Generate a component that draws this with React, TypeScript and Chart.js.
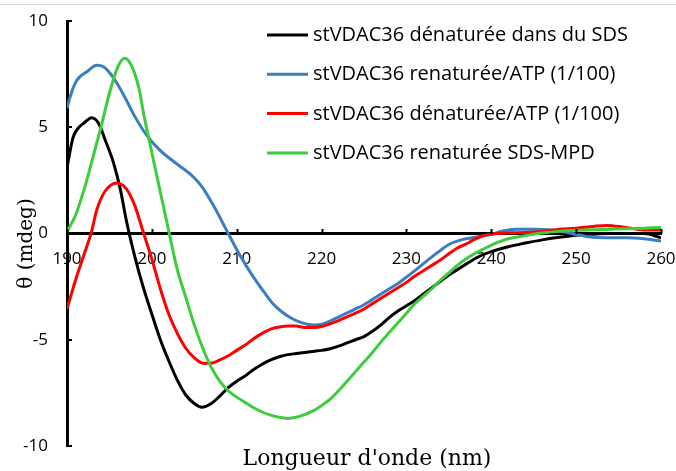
import { useEffect, useRef } from 'react';
import { Chart, registerables } from 'chart.js';

Chart.register(...registerables);

// Circular dichroism spectra, wavelength (nm) vs ellipticity θ (mdeg)
const sdsNm = [190, 190.7, 191.3, 192, 192.9, 193.7, 194.5, 195.5, 196.3, 197, 198, 199, 200, 201, 202, 203, 204, 205, 205.9, 207, 208, 209, 210, 211, 212, 213, 214, 215, 216, 217, 218, 219, 220, 221, 222, 223, 224, 225, 226, 227, 228, 229, 230, 231, 232, 233, 234, 235, 236, 237, 238, 239, 240, 242, 244, 246, 248, 250, 252, 254, 256, 258, 260];
const sdsTheta = [3.1, 4.5, 4.95, 5.2, 5.45, 5.2, 4.4, 3.3, 2.05, 0.6, -1.1, -2.55, -3.8, -5.0, -6.0, -6.9, -7.6, -8.0, -8.18, -8.0, -7.65, -7.25, -6.95, -6.7, -6.4, -6.15, -5.95, -5.8, -5.7, -5.65, -5.6, -5.55, -5.5, -5.42, -5.3, -5.15, -5.0, -4.85, -4.6, -4.3, -3.95, -3.65, -3.4, -3.15, -2.85, -2.55, -2.25, -1.95, -1.7, -1.45, -1.2, -1.0, -0.85, -0.62, -0.45, -0.3, -0.18, -0.08, -0.03, 0.0, 0.0, 0.0, -0.2];

const renatAtpNm = [190, 190.5, 191, 191.5, 192.3, 193.5, 194.3, 195.1, 196, 197, 198, 199.4, 201, 202.9, 204.9, 206, 206.9, 207.7, 208.4, 209, 210.4, 211.4, 212.4, 213.4, 214.3, 215.3, 216.3, 217.3, 218.3, 219.2, 220, 221, 222, 223, 224, 225, 226, 227, 228, 229, 230, 231, 232, 233, 234, 235, 236, 237, 238, 239, 240, 241, 242, 243, 245, 247, 249, 250, 251, 252, 254, 256, 258, 260];
const renatAtpTheta = [5.9, 6.6, 7.1, 7.37, 7.6, 7.92, 7.85, 7.53, 7.0, 6.27, 5.5, 4.62, 3.9, 3.29, 2.66, 2.15, 1.56, 1.0, 0.46, 0.0, -1.04, -1.7, -2.3, -2.85, -3.32, -3.68, -3.95, -4.15, -4.27, -4.3, -4.27, -4.12, -3.93, -3.74, -3.55, -3.35, -3.1, -2.85, -2.6, -2.35, -2.05, -1.75, -1.42, -1.1, -0.8, -0.52, -0.36, -0.25, -0.18, -0.1, -0.05, 0.08, 0.17, 0.2, 0.2, 0.17, 0.05, -0.05, -0.12, -0.18, -0.2, -0.2, -0.25, -0.35];

const denatAtpNm = [190, 191, 192, 192.9, 193.5, 194.5, 195.9, 197, 198, 199, 200, 201, 202, 203, 204, 205, 206, 207, 208, 209, 210, 211, 212, 213, 214, 215, 216, 217, 218, 219, 220, 221, 222, 223, 224, 225, 226, 227, 228, 229, 230, 231, 232, 233, 234, 235, 236, 237, 238, 239, 240, 242, 244, 246, 248, 250, 252, 253.6, 255.6, 258, 260];
const denatAtpTheta = [-3.55, -2.2, -1.0, 0.1, 1.1, 2.0, 2.38, 2.1, 1.3, 0.05, -1.2, -2.6, -3.8, -4.7, -5.4, -5.85, -6.1, -6.1, -5.95, -5.75, -5.5, -5.25, -4.95, -4.7, -4.5, -4.4, -4.35, -4.35, -4.42, -4.42, -4.38, -4.25, -4.1, -3.92, -3.75, -3.55, -3.3, -3.05, -2.8, -2.55, -2.3, -2.0, -1.75, -1.5, -1.25, -0.95, -0.68, -0.5, -0.28, -0.12, -0.03, 0.03, 0.05, 0.1, 0.2, 0.25, 0.33, 0.38, 0.3, 0.17, 0.17];

const sdsMpdNm = [190, 191, 192, 193, 194, 195, 196, 196.8, 197.6, 198.5, 199, 200, 201, 202, 203, 204, 205, 206, 207, 208, 209, 210, 211, 212, 213, 214, 215, 216, 217, 218, 219, 220, 221, 222, 223, 224, 225, 226, 227, 228, 229, 230, 231, 232, 233, 234, 235, 236, 237, 238, 239, 240, 241, 242, 244, 246, 248, 250, 252, 254, 256, 258, 260];
const sdsMpdTheta = [0.1, 0.85, 2.05, 3.5, 5.0, 6.6, 7.85, 8.25, 7.9, 6.8, 5.7, 3.8, 1.95, 0.1, -1.7, -3.0, -4.3, -5.4, -6.3, -6.95, -7.4, -7.7, -7.95, -8.2, -8.4, -8.55, -8.65, -8.7, -8.65, -8.52, -8.35, -8.1, -7.8, -7.4, -6.95, -6.5, -6.05, -5.6, -5.1, -4.65, -4.2, -3.75, -3.3, -2.95, -2.6, -2.2, -1.85, -1.5, -1.2, -0.95, -0.75, -0.55, -0.38, -0.25, -0.1, 0.02, 0.1, 0.15, 0.18, 0.2, 0.22, 0.25, 0.28];

const seriesLabels = [
  'stVDAC36 dénaturée dans du SDS',
  'stVDAC36 renaturée/ATP (1/100)',
  'stVDAC36 dénaturée/ATP (1/100)',
  'stVDAC36 renaturée SDS-MPD',
];
const seriesColors = ['#000000', '#3b7dc1', '#ff0000', '#3ccc3c'];

const xAxisTitle = "Longueur d'onde (nm)";
const yAxisTitle = 'θ (mdeg)';

const toPoints = (nm: number[], theta: number[]) => nm.map((x, i) => ({ x, y: theta[i] }));

const seriesPoints = [
  toPoints(sdsNm, sdsTheta),
  toPoints(renatAtpNm, renatAtpTheta),
  toPoints(denatAtpNm, denatAtpTheta),
  toPoints(sdsMpdNm, sdsMpdTheta),
];

const sansFont = '"Open Sans", "Noto Sans", sans-serif';
const serifFont = '"DejaVu Serif", serif';

// Background, frame line, inward tick marks, in-plot legend and axis titles
const decorations = {
  id: 'decorations',
  beforeDraw(chart: Chart) {
    const { ctx, width } = chart;
    ctx.save();
    ctx.fillStyle = '#ffffff';
    ctx.fillRect(0, 0, width, chart.height);
    ctx.strokeStyle = '#d6d6d6';
    ctx.lineWidth = 1;
    ctx.beginPath();
    ctx.moveTo(0, 4.5);
    ctx.lineTo(width, 4.5);
    ctx.stroke();
    ctx.restore();
  },
  afterDraw(chart: Chart) {
    const { ctx, chartArea } = chart;
    const xScale = chart.scales.x;
    const yScale = chart.scales.y;
    ctx.save();

    // tick marks pointing into the plot
    ctx.strokeStyle = '#000';
    ctx.lineWidth = 2;
    const zeroY = Math.round(yScale.getPixelForValue(0));
    xScale.ticks.forEach((t) => {
      const px = Math.round(xScale.getPixelForValue(t.value)) + 0.5;
      ctx.beginPath();
      ctx.moveTo(px, zeroY);
      ctx.lineTo(px, zeroY - 5);
      ctx.stroke();
    });
    const axisX = Math.round(chartArea.left);
    yScale.ticks.forEach((t) => {
      const py = Math.round(yScale.getPixelForValue(t.value));
      ctx.beginPath();
      ctx.moveTo(axisX, py);
      ctx.lineTo(axisX + 5, py);
      ctx.stroke();
    });

    // legend
    const lx = chartArea.left + 200;
    const ly = chartArea.top + 14;
    ctx.font = `20px ${sansFont}`;
    ctx.textAlign = 'left';
    ctx.textBaseline = 'alphabetic';
    chart.data.datasets.forEach((ds, i) => {
      const y = ly + i * 39.3;
      ctx.strokeStyle = ds.borderColor as string;
      ctx.lineWidth = 3;
      ctx.beginPath();
      ctx.moveTo(lx, y);
      ctx.lineTo(lx + 41, y);
      ctx.stroke();
      ctx.fillStyle = '#000';
      ctx.fillText(ds.label as string, lx + 46, y + 6);
    });

    // axis titles
    ctx.fillStyle = '#000';
    ctx.font = `22px ${serifFont}`;
    ctx.textAlign = 'center';
    ctx.fillText(xAxisTitle, (chartArea.left + chartArea.right) / 2 + 3, chartArea.bottom + 19);

    ctx.font = `20px ${serifFont}`;
    ctx.translate(31.5, (chartArea.top + chartArea.bottom) / 2 + 10);
    ctx.rotate(-Math.PI / 2);
    ctx.fillText(yAxisTitle, 0, 0);
    ctx.restore();
  },
};

export default function App() {
  const canvasRef = useRef<HTMLCanvasElement>(null);

  useEffect(() => {
    const canvas = canvasRef.current;
    if (!canvas) return;
    const chart = new Chart(canvas, {
      type: 'line',
      data: {
        datasets: seriesPoints.map((pts, i) => ({
          label: seriesLabels[i],
          data: pts,
          borderColor: seriesColors[i],
          backgroundColor: seriesColors[i],
          borderWidth: 3,
          pointRadius: 0,
          fill: false,
          cubicInterpolationMode: 'monotone' as const,
          order: seriesPoints.length - i,
        })),
      },
      options: {
        animation: false,
        responsive: false,
        devicePixelRatio: 1,
        events: [],
        layout: { padding: { top: 21, right: 15, bottom: 25, left: 0 } },
        plugins: {
          legend: { display: false },
          tooltip: { enabled: false },
        },
        scales: {
          x: {
            type: 'linear',
            min: 190,
            max: 260,
            position: { y: 0 } as any,
            ticks: {
              stepSize: 10,
              padding: 15,
              color: '#000',
              maxRotation: 0,
              autoSkip: false,
              font: { family: sansFont, size: 17 },
              callback: (v: any) => String(v),
            },
            grid: { drawOnChartArea: false, drawTicks: false },
            border: { display: true, color: '#000', width: 3 },
            afterFit(scale: any) {
              scale.paddingLeft = 0;
              scale.paddingRight = 0;
              scale.paddingTop = 0;
              scale.paddingBottom = 0;
            },
          },
          y: {
            type: 'linear',
            min: -10,
            max: 10,
            ticks: {
              stepSize: 5,
              padding: 19,
              color: '#000',
              font: { family: sansFont, size: 17 },
              callback: (v: any) => String(v),
            },
            grid: { drawOnChartArea: false, drawTicks: false },
            border: { display: true, color: '#000', width: 3 },
            afterFit(scale: any) {
              scale.width = 67;
              scale.paddingTop = 0;
              scale.paddingBottom = 0;
              scale.paddingLeft = 0;
              scale.paddingRight = 0;
            },
          },
        },
      },
      plugins: [decorations],
    });
    return () => chart.destroy();
  }, []);

  return (
    <div style={{ position: 'fixed', left: 0, top: 0, width: 676, height: 471, background: '#fff' }}>
      <canvas ref={canvasRef} width={676} height={471} style={{ display: 'block', width: 676, height: 471 }} />
    </div>
  );
}
